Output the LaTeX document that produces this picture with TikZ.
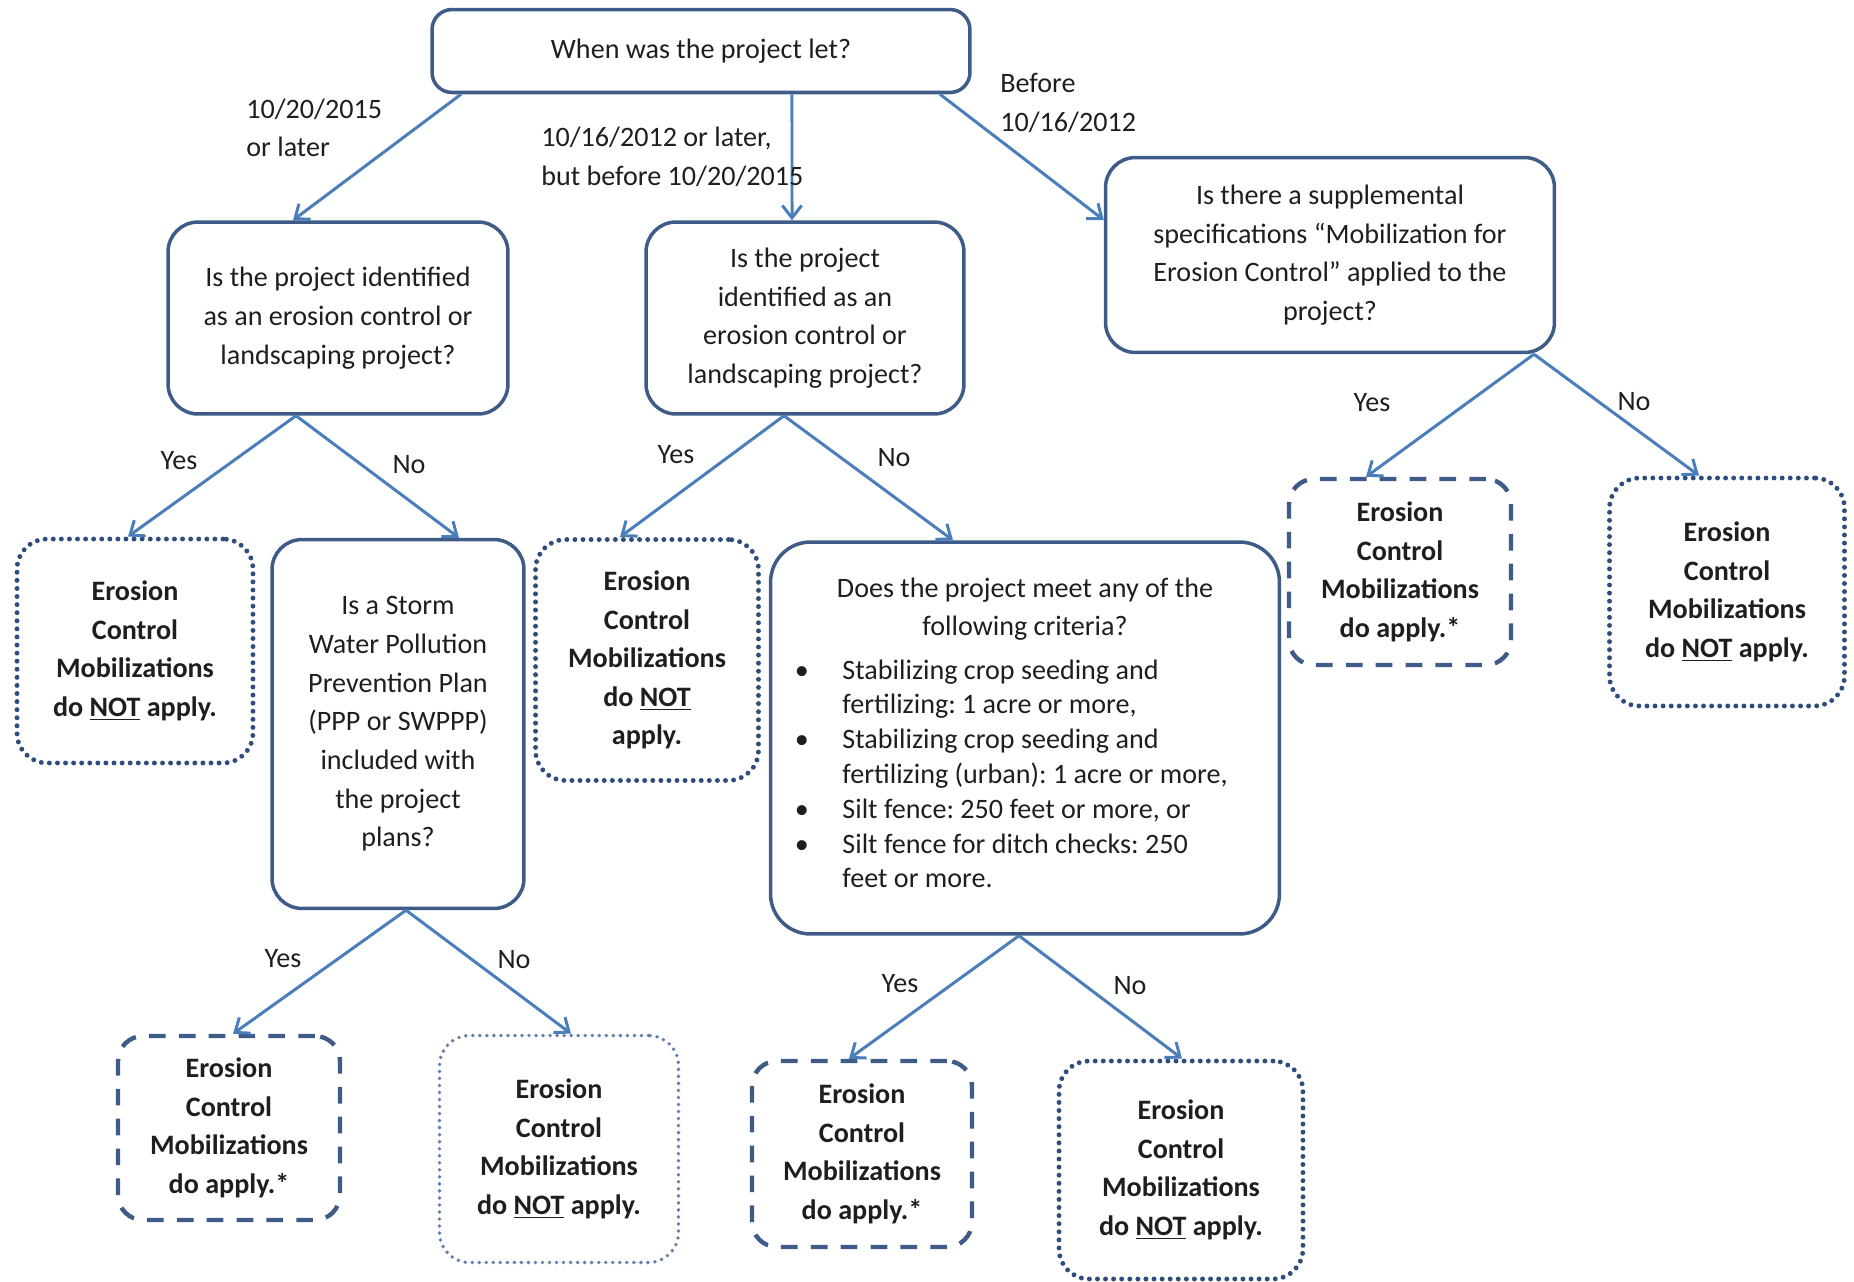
\documentclass[tikz,border=0pt]{standalone}
\usepackage{fontspec}
\setmainfont{Carlito}
\usetikzlibrary{arrows.meta}

\definecolor{boxblue}{RGB}{62,92,135}
\definecolor{arrowblue}{RGB}{74,126,187}
\definecolor{dotblue}{RGB}{47,76,125}
\definecolor{paleblue}{RGB}{100,128,170}
\definecolor{txtgray}{RGB}{30,30,30}
\frenchspacing

\begin{document}
\begin{tikzpicture}[x=0.02cm, y=-0.02cm,
    every node/.style={font=\fontsize{16}{22}\selectfont, text=txtgray},
    qbox/.style={draw=boxblue, line width=2pt, rounded corners=0.6cm, align=center},
    nobox/.style={draw=dotblue, line width=2.8pt, line cap=round, dash pattern=on 0pt off 4.6pt,
        rounded corners=0.6cm, align=center, font=\fontsize{16}{22}\selectfont\bfseries},
    yesbox/.style={draw=boxblue, line width=2.5pt, dash pattern=on 9.5pt off 7.5pt,
        rounded corners=0.5cm, align=center, font=\fontsize{16}{22}\selectfont\bfseries},
    arr/.style={draw=arrowblue, line width=1.7pt, -{Straight Barb[length=7pt,width=11pt]}},
    lbl/.style={inner sep=0pt, align=left}]
    \useasboundingbox (0,0) rectangle (1854,1282);

    % questions
    \node[qbox, rounded corners=0.4cm, minimum width=10.76cm, minimum height=1.66cm] (qlet) at (701,51) {When was the project let?};
    \node[qbox, minimum width=6.8cm, minimum height=3.84cm] (qnew) at (338,318)
        {Is the project identified\\as an erosion control or\\landscaping project?};
    \node[qbox, minimum width=6.36cm, minimum height=3.84cm] (qmid) at (805,318)
        {Is the project\\identified as an\\erosion control or\\landscaping project?};
    \node[qbox, minimum width=8.98cm, minimum height=3.9cm] (qold) at (1330,255)
        {Is there a supplemental\\specifications ``Mobilization for\\Erosion Control'' applied to the\\project?};
    \node[qbox, minimum width=5.04cm, minimum height=7.38cm] (qswppp) at (398,724)
        {Is a Storm\\Water Pollution\\Prevention Plan\\(PPP or SWPPP)\\included with\\the project\\plans?};
    \node[qbox, rounded corners=0.8cm, minimum width=10.18cm, minimum height=7.84cm] (qcrit) at (1025,738)
        {Does the project meet any of the\\following criteria?\\[7pt]
        \renewcommand{\arraystretch}{0.9}%
        \begin{tabular}{@{}p{0.95cm}@{}l@{}}
        \textbullet & Stabilizing crop seeding and\\
                    & fertilizing: 1 acre or more,\\
        \textbullet & Stabilizing crop seeding and\\
                    & fertilizing (urban): 1 acre or more,\\
        \textbullet & Silt fence: 250 feet or more, or\\
        \textbullet & Silt fence for ditch checks: 250\\
                    & feet or more.
        \end{tabular}\hspace*{0.55cm}};

    % outcomes
    \node[nobox, minimum width=4.72cm, minimum height=4.48cm] (newNo) at (135,651)
        {Erosion\\Control\\Mobilizations\\do \underline{NOT} apply.};
    \node[nobox, minimum width=4.46cm, minimum height=4.82cm] (midNo) at (647,660)
        {Erosion\\Control\\Mobilizations\\do \underline{NOT}\\apply.};
    \node[yesbox, minimum width=4.44cm, minimum height=3.72cm] (oldYes) at (1400,572)
        {Erosion\\Control\\Mobilizations\\do apply.*};
    \node[nobox, minimum width=4.7cm, minimum height=4.56cm] (oldNo) at (1727,592)
        {Erosion\\Control\\Mobilizations\\do \underline{NOT} apply.};
    \node[yesbox, minimum width=4.44cm, minimum height=3.68cm] (swYes) at (229,1128)
        {Erosion\\Control\\Mobilizations\\do apply.*};
    \node[nobox, draw=paleblue, line width=2.2pt, dash pattern=on 0pt off 4pt, minimum width=4.78cm, minimum height=4.54cm] (swNo) at (559,1149)
        {Erosion\\Control\\Mobilizations\\do \underline{NOT} apply.};
    \node[yesbox, minimum width=4.4cm, minimum height=3.72cm] (critYes) at (862,1154)
        {Erosion\\Control\\Mobilizations\\do apply.*};
    \node[nobox, minimum width=4.88cm, minimum height=4.36cm] (critNo) at (1181,1170)
        {Erosion\\Control\\Mobilizations\\do \underline{NOT} apply.};

    % connectors
    \draw[arr] ([xshift=-4.8cm]qlet.south) -- ([xshift=-0.9cm]qnew.north);
    \draw[arr] ([xshift=1.82cm]qlet.south) -- ([xshift=-0.26cm]qmid.north);
    \draw[arr] ([xshift=4.78cm]qlet.south) -- ([yshift=0.7cm]qold.west);
    \draw[arr] ([xshift=-0.84cm]qnew.south) -- ([xshift=-0.14cm]newNo.north);
    \draw[arr] ([xshift=-0.84cm]qnew.south) -- ([xshift=1.22cm]qswppp.north);
    \draw[arr] ([xshift=-0.42cm]qmid.south) -- ([xshift=-0.54cm]midNo.north);
    \draw[arr] ([xshift=-0.42cm]qmid.south) -- ([xshift=-1.44cm]qcrit.north);
    \draw[arr] ([xshift=4.08cm]qold.south) -- ([xshift=-0.68cm]oldYes.north);
    \draw[arr] ([xshift=4.08cm]qold.south) -- ([xshift=-0.56cm]oldNo.north);
    \draw[arr] ([xshift=0.16cm]qswppp.south) -- ([xshift=0.08cm]swYes.north);
    \draw[arr] ([xshift=0.16cm]qswppp.south) -- ([xshift=0.24cm]swNo.north);
    \draw[arr] ([xshift=-0.12cm]qcrit.south) -- ([xshift=-0.26cm]critYes.north);
    \draw[arr] ([xshift=-0.12cm]qcrit.south) -- ([xshift=0.02cm]critNo.north);

    % labels
    \node[lbl, anchor=west] (dNew) at (246,128) {10/20/2015\\or later};
    \node[lbl, anchor=west] (dMid) at (541,157) {10/16/2012 or later,\\but before 10/20/2015};
    \node[lbl, anchor=west] (dOld) at (1000,103) {Before\\10/16/2012};
    \node[lbl] (lNewYes) at (179,461) {Yes};
    \node[lbl] (lNewNo) at (409,465) {No};
    \node[lbl] (lMidYes) at (676,455) {Yes};
    \node[lbl] (lMidNo) at (894,458) {No};
    \node[lbl] (lOldYes) at (1372,403) {Yes};
    \node[lbl] (lOldNo) at (1634,402) {No};
    \node[lbl] (lSwYes) at (283,959) {Yes};
    \node[lbl] (lSwNo) at (514,960) {No};
    \node[lbl] (lCritYes) at (900,984) {Yes};
    \node[lbl] (lCritNo) at (1130,986) {No};
\end{tikzpicture}
\end{document}
